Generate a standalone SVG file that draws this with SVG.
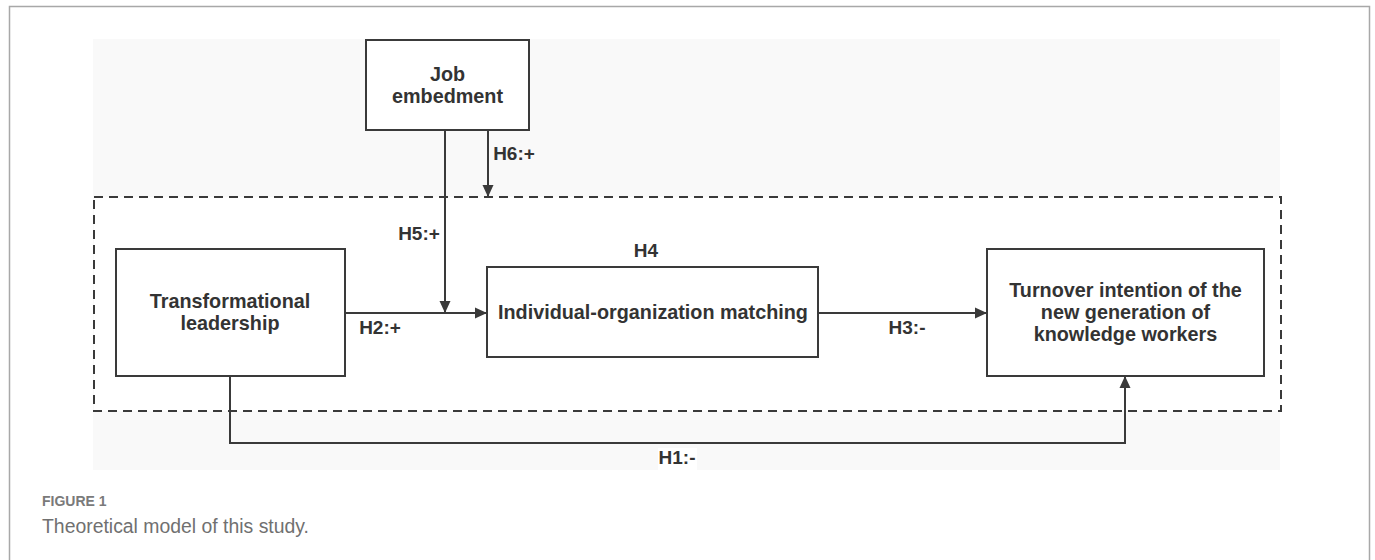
<svg xmlns="http://www.w3.org/2000/svg" width="1375" height="560" viewBox="0 0 1375 560">
  <style>
    .node rect { fill: #ffffff; stroke: #3a3a3a; stroke-width: 2; }
    .node text, .lbl { font-family: "Liberation Sans", Arial, sans-serif; font-weight: bold; font-size: 19px; fill: #333333; text-anchor: middle; }
    .node text { font-size: 19.8px; }
    .conn { fill: none; stroke: #3a3a3a; stroke-width: 2; }
    .cap1 { font-family: "Liberation Sans", Arial, sans-serif; font-weight: bold; font-size: 14px; fill: #7a7a7a; }
    .cap2 { font-family: "Liberation Sans", Arial, sans-serif; font-size: 19.4px; fill: #707070; }
  </style>
  <defs>
    <marker id="arrow" markerUnits="userSpaceOnUse" markerWidth="14" markerHeight="12" refX="12" refY="6" orient="auto">
      <path d="M0,0.5 L12,6 L0,11.5 Z" fill="#3a3a3a"/>
    </marker>
  </defs>

  <rect x="0" y="0" width="1375" height="560" fill="#ffffff"/>
  <path d="M9.5,560 V6.5 H1369.5 V560" fill="none" stroke="#a8a8a8" stroke-width="1.5"/>

  <rect x="93" y="39" width="1187" height="431" fill="#f9f9f9"/>
  <rect x="94" y="197" width="1187" height="214" fill="#ffffff" stroke="#3a3a3a" stroke-width="2" stroke-dasharray="9 6"/>

  <g id="connectors">
    <path class="conn" d="M445,130 V313" marker-end="url(#arrow)"/>
    <path class="conn" d="M488,130 V197" marker-end="url(#arrow)"/>
    <path class="conn" d="M345,313 H487" marker-end="url(#arrow)"/>
    <path class="conn" d="M818,313 H987" marker-end="url(#arrow)"/>
    <path class="conn" d="M230,376 V443 H1125 V376" marker-end="url(#arrow)"/>
    <rect x="658" y="448" width="39" height="22" fill="#ffffff"/>
    <text class="lbl" x="514" y="160">H6:+</text>
    <text class="lbl" x="419" y="240">H5:+</text>
    <text class="lbl" x="646" y="257">H4</text>
    <text class="lbl" x="380" y="334">H2:+</text>
    <text class="lbl" x="907" y="334">H3:-</text>
    <text class="lbl" x="677" y="464">H1:-</text>
  </g>

  <g id="job-embedment" class="node">
    <rect x="366" y="40" width="163" height="90"/>
    <text x="447.5" y="81">Job</text>
    <text x="447.5" y="103">embedment</text>
  </g>

  <g id="transformational-leadership" class="node">
    <rect x="116" y="249" width="229" height="127"/>
    <text x="230" y="308">Transformational</text>
    <text x="230" y="330">leadership</text>
  </g>

  <g id="individual-organization-matching" class="node">
    <rect x="487" y="267" width="331" height="90"/>
    <text x="653" y="319">Individual-organization matching</text>
  </g>

  <g id="turnover-intention" class="node">
    <rect x="987" y="249" width="277" height="127"/>
    <text x="1125.5" y="297">Turnover intention of the</text>
    <text x="1125.5" y="319">new generation of</text>
    <text x="1125.5" y="341">knowledge workers</text>
  </g>

  <text class="cap1" x="42" y="506">FIGURE 1</text>
  <text class="cap2" x="42" y="533">Theoretical model of this study.</text>
</svg>
